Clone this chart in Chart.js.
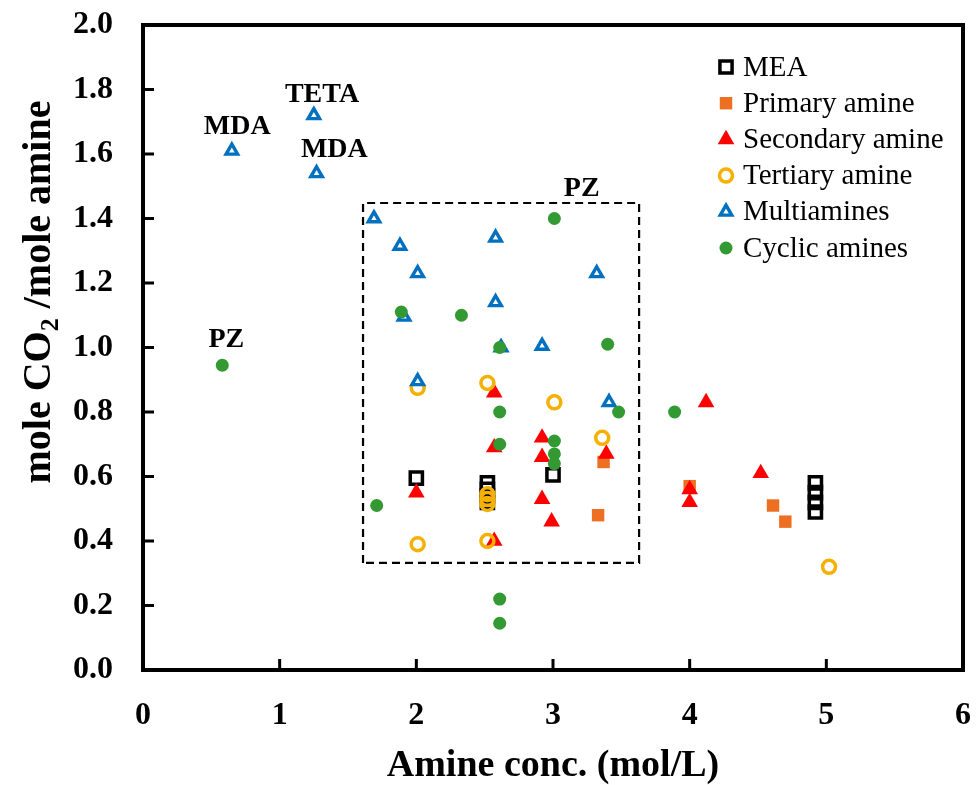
<!DOCTYPE html>
<html>
<head>
<meta charset="utf-8">
<script src="https://cdn.jsdelivr.net/npm/chart.js@4/dist/chart.umd.min.js"></script>
<style>
html, body { margin: 0; padding: 0; background: #fff; }
</style>
</head>
<body>
<canvas id="co2Chart" width="976" height="785"></canvas>
<script>
// values
var meaX = [2.0, 2.52, 2.52, 2.52, 2.52, 3.0, 4.92, 4.92, 4.92, 4.92];
var meaY = [0.595, 0.58, 0.56, 0.54, 0.52, 0.605, 0.58, 0.55, 0.52, 0.49];

var primaryX = [3.37, 3.33, 4.0, 4.61, 4.70];
var primaryY = [0.645, 0.48, 0.57, 0.51, 0.46];

var secondaryX = [2.0, 2.57, 2.57, 2.57, 2.92, 2.92, 2.92, 2.99, 3.39, 4.0, 4.0, 4.12, 4.52];
var secondaryY = [0.55, 0.86, 0.69, 0.40, 0.72, 0.66, 0.53, 0.46, 0.67, 0.56, 0.52, 0.83, 0.61];

var tertiaryX = [2.01, 2.01, 2.52, 2.52, 2.52, 2.52, 2.52, 3.01, 3.36, 5.02];
var tertiaryY = [0.875, 0.39, 0.89, 0.545, 0.53, 0.515, 0.40, 0.83, 0.72, 0.32];

var multiX = [0.65, 1.25, 1.27, 1.69, 1.88, 2.01, 1.91, 2.58, 2.58, 2.62, 2.92, 3.32, 2.01, 3.41];
var multiY = [1.61, 1.72, 1.54, 1.40, 1.315, 1.23, 1.095, 1.34, 1.14, 1.0, 1.005, 1.23, 0.895, 0.83];

var cyclicX = [0.58, 3.01, 1.89, 2.33, 2.61, 3.40, 2.61, 2.61, 3.01, 3.01, 3.01, 3.48, 3.89, 1.71, 2.61, 2.61];
var cyclicY = [0.945, 1.40, 1.11, 1.10, 1.0, 1.01, 0.80, 0.70, 0.71, 0.67, 0.64, 0.80, 0.80, 0.51, 0.22, 0.145];

// dashed region
var boxX = [1.61, 1.61, 3.63, 3.63, 1.61];
var boxY = [0.332, 1.448, 1.448, 0.332, 0.332];

// text labels next to points
var noteText = ['MDA', 'TETA', 'MDA', 'PZ', 'PZ'];
var noteX = [0.69, 1.31, 1.40, 0.61, 3.21];
var noteY = [1.683, 1.783, 1.613, 1.023, 1.493];

var xTicks = [0, 1, 2, 3, 4, 5, 6];
var yTicks = [0, 0.2, 0.4, 0.6, 0.8, 1.0, 1.2, 1.4, 1.6, 1.8, 2.0];

function pts(xs, ys) {
    return xs.map(function (x, i) { return { x: x, y: ys[i] }; });
}

var serif = "'Liberation Serif', 'Times New Roman', serif";

function drawMarker(ctx, ds, x, y) {
    var r = ds.pointRadius;
    ctx.save();
    ctx.beginPath();
    if (ds.pointStyle === 'rect') {
        var s = r * Math.SQRT1_2;
        ctx.rect(x - s, y - s, 2 * s, 2 * s);
    } else if (ds.pointStyle === 'triangle') {
        ctx.moveTo(x, y - r);
        ctx.lineTo(x + r * Math.sin(2 * Math.PI / 3), y - r * Math.cos(2 * Math.PI / 3));
        ctx.lineTo(x + r * Math.sin(4 * Math.PI / 3), y - r * Math.cos(4 * Math.PI / 3));
        ctx.closePath();
    } else {
        ctx.arc(x, y, r, 0, Math.PI * 2);
    }
    ctx.fillStyle = ds.backgroundColor;
    ctx.fill();
    if (ds.pointBorderWidth > 0) {
        ctx.lineWidth = ds.pointBorderWidth;
        ctx.strokeStyle = ds.borderColor;
        ctx.stroke();
    }
    ctx.restore();
}

var framePlugin = {
    id: 'frame',
    afterDatasetsDraw: function (chart) {
        var ctx = chart.ctx;
        var xs = chart.scales.x, ys = chart.scales.y;
        // notes
        ctx.save();
        ctx.font = 'bold 28px ' + serif;
        ctx.fillStyle = '#000';
        ctx.textAlign = 'center';
        ctx.textBaseline = 'middle';
        noteText.forEach(function (t, i) {
            ctx.fillText(t, xs.getPixelForValue(noteX[i]), ys.getPixelForValue(noteY[i]));
        });
        ctx.restore();
    },
    afterDraw: function (chart) {
        var ctx = chart.ctx;
        var a = chart.chartArea;
        var xs = chart.scales.x, ys = chart.scales.y;
        ctx.save();
        ctx.strokeStyle = '#000';
        ctx.lineWidth = 4;
        ctx.strokeRect(a.left, a.top, a.right - a.left, a.bottom - a.top);
        // inside ticks
        ctx.lineWidth = 3;
        ctx.beginPath();
        xTicks.forEach(function (v) {
            var px = xs.getPixelForValue(v);
            ctx.moveTo(px, a.bottom);
            ctx.lineTo(px, a.bottom - 11);
        });
        yTicks.forEach(function (v) {
            var py = ys.getPixelForValue(v);
            ctx.moveTo(a.left, py);
            ctx.lineTo(a.left + 11, py);
        });
        ctx.stroke();

        // y title with subscript
        ctx.translate(40, 292);
        ctx.rotate(-Math.PI / 2);
        ctx.fillStyle = '#000';
        ctx.textBaseline = 'middle';
        var big = 'bold 40px ' + serif, small = 'bold 26px ' + serif;
        var p1 = 'mole CO', p2 = '2', p3 = ' /mole amine';
        ctx.font = big; var w1 = ctx.measureText(p1).width, w3 = ctx.measureText(p3).width;
        ctx.font = small; var w2 = ctx.measureText(p2).width;
        var x0 = -(w1 + w2 + w3) / 2;
        ctx.font = big; ctx.fillText(p1, x0, 0);
        ctx.font = small; ctx.fillText(p2, x0 + w1, 11);
        ctx.font = big; ctx.fillText(p3, x0 + w1 + w2, 0);
        ctx.restore();

        // legend inside the plot
        ctx.save();
        ctx.font = '29px ' + serif;
        ctx.fillStyle = '#000';
        ctx.textBaseline = 'middle';
        var row = 0;
        chart.data.datasets.forEach(function (ds) {
            if (!ds.label) return;
            var y = 67 + row * 36.2;
            drawMarker(ctx, ds, 726, y);
            ctx.fillStyle = '#000';
            ctx.fillText(ds.label, 743, y + 1);
            row++;
        });
        ctx.restore();
    }
};

var ctx = document.getElementById('co2Chart').getContext('2d');

var chart = new Chart(ctx, {
    type: 'scatter',
    data: {
        datasets: [{
            label: 'MEA',
            data: pts(meaX, meaY),
            pointStyle: 'rect',
            pointRadius: 8.6,
            pointBorderWidth: 3.5,
            borderColor: '#000000',
            backgroundColor: 'rgba(0,0,0,0)',
            order: 6
        }, {
            label: 'Primary amine',
            data: pts(primaryX, primaryY),
            pointStyle: 'rect',
            pointRadius: 8.8,
            pointBorderWidth: 0,
            borderColor: '#ED7022',
            backgroundColor: '#ED7022',
            order: 5
        }, {
            label: 'Secondary amine',
            data: pts(secondaryX, secondaryY),
            pointStyle: 'triangle',
            pointRadius: 9.6,
            pointBorderWidth: 0,
            borderColor: '#FF0000',
            backgroundColor: '#FF0000',
            order: 4
        }, {
            label: 'Tertiary amine',
            data: pts(tertiaryX, tertiaryY),
            pointStyle: 'circle',
            pointRadius: 6.5,
            pointBorderWidth: 3.5,
            borderColor: '#F5B000',
            backgroundColor: 'rgba(0,0,0,0)',
            order: 3
        }, {
            label: 'Multiamines',
            data: pts(multiX, multiY),
            pointStyle: 'triangle',
            pointRadius: 6.6,
            pointBorderWidth: 3.4,
            borderColor: '#0070C0',
            backgroundColor: '#FFFFFF',
            order: 2
        }, {
            label: 'Cyclic amines',
            data: pts(cyclicX, cyclicY),
            pointStyle: 'circle',
            pointRadius: 6.5,
            pointBorderWidth: 0,
            borderColor: '#339933',
            backgroundColor: '#339933',
            order: 1
        }, {
            label: '',
            data: pts(boxX, boxY),
            type: 'line',
            showLine: true,
            fill: false,
            pointRadius: 0,
            borderColor: '#000000',
            borderWidth: 2.2,
            borderDash: [8, 5],
            tension: 0,
            order: 10
        }]
    },
    options: {
        responsive: false,
        animation: false,
        events: [],
        layout: {
            padding: { left: 0, right: 13, top: 25, bottom: 0 }
        },
        plugins: {
            legend: { display: false },
            tooltip: { enabled: false }
        },
        scales: {
            x: {
                type: 'linear',
                min: 0,
                max: 6,
                afterFit: function (scale) {
                    scale.height = 115;
                    scale.paddingLeft = 0;
                    scale.paddingRight = 0;
                },
                afterBuildTicks: function (scale) {
                    scale.ticks = xTicks.map(function (v) { return { value: v }; });
                },
                ticks: {
                    padding: 27,
                    color: '#000',
                    font: { family: serif, size: 32, weight: 'bold' }
                },
                grid: { display: false, drawTicks: false },
                border: { display: false },
                title: {
                    display: true,
                    text: 'Amine conc. (mol/L)',
                    color: '#000',
                    font: { family: serif, size: 38, weight: 'bold' },
                    padding: { top: 0, bottom: -4 }
                }
            },
            y: {
                type: 'linear',
                min: 0,
                max: 2,
                afterFit: function (scale) {
                    scale.width = 143;
                    scale.paddingTop = 0;
                    scale.paddingBottom = 0;
                },
                afterBuildTicks: function (scale) {
                    scale.ticks = yTicks.map(function (v) { return { value: v }; });
                },
                ticks: {
                    padding: 30,
                    color: '#000',
                    font: { family: serif, size: 32, weight: 'bold' },
                    callback: function (v) { return Number(v).toFixed(1); }
                },
                grid: { display: false, drawTicks: false },
                border: { display: false }
            }
        }
    },
    plugins: [framePlugin]
});
</script>
</body>
</html>
